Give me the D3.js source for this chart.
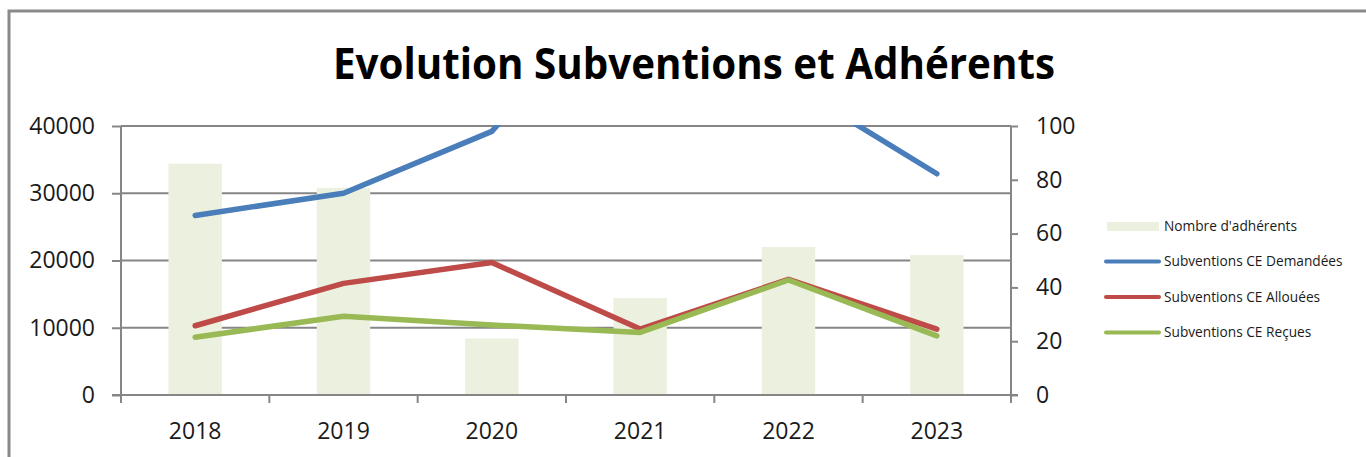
<!DOCTYPE html>
<html>
<head>
<meta charset="utf-8">
<script src="https://cdn.jsdelivr.net/npm/d3@7"></script>
<style>
  html, body { margin: 0; padding: 0; background: #fff; }
  svg { display: block; }
  text { font-family: "Open Sans", "DejaVu Sans", sans-serif; fill: #1a1a1a; }
</style>
</head>
<body>
<svg id="chart" width="1366" height="457"></svg>
<script>
const years = ["2018", "2019", "2020", "2021", "2022", "2023"];
const adherents = [86, 77, 21, 36, 55, 52];
const demandees = [26700, 30000, 39200, 64000, 46400, 32900];
const allouees = [10300, 16600, 19700, 9800, 17200, 9800];
const recues = [8600, 11700, 10400, 9300, 17100, 8800];
const leftTicks = [0, 10000, 20000, 30000, 40000];
const rightTicks = [0, 20, 40, 60, 80, 100];
const seriesNames = ["Nombre d'adhérents", "Subventions CE Demandées", "Subventions CE Allouées", "Subventions CE Reçues"];
const title = "Evolution Subventions et Adhérents";

const colors = { bar: "#ebf1de", blue: "#4a7ebb", red: "#be4b48", green: "#98b954", axis: "#868686" };

const svg = d3.select("#chart");
const W = 1366, H = 457;
const plot = { left: 121, right: 1011, top: 126, bottom: 395 };

svg.append("rect").attr("width", W).attr("height", H).attr("fill", "#fff");

// outer frame (left + top visible)
svg.append("path")
  .attr("d", `M9,${H} L9,11 L${W},11`)
  .attr("fill", "none").attr("stroke", "#8a8a8a").attr("stroke-width", 3);

// title
svg.append("text")
  .attr("x", 694).attr("y", 79)
  .attr("text-anchor", "middle")
  .attr("font-size", 43).attr("font-weight", "bold")
  .attr("textLength", 722).attr("lengthAdjust", "spacingAndGlyphs")
  .style("fill", "#000")
  .text(title);

const x = d3.scaleBand().domain(years).range([plot.left, plot.right]).paddingInner(0.64).paddingOuter(0.32);
const xStep = x.step();
const cx = d => x(d) + x.bandwidth() / 2;
const yL = d3.scaleLinear().domain([0, 40000]).range([plot.bottom, plot.top]);
const yR = d3.scaleLinear().domain([0, 100]).range([plot.bottom, plot.top]);

// gridlines
svg.append("g").selectAll("line").data(leftTicks.filter(t => t > 0)).join("line")
  .attr("x1", plot.left).attr("x2", plot.right)
  .attr("y1", d => yL(d)).attr("y2", d => yL(d))
  .attr("stroke", colors.axis).attr("stroke-width", 2);

// bars
svg.append("g").selectAll("rect").data(years).join("rect")
  .attr("x", d => x(d)).attr("width", x.bandwidth())
  .attr("y", (d, i) => yR(adherents[i]))
  .attr("height", (d, i) => yR(0) - yR(adherents[i]))
  .attr("fill", colors.bar);

// axes
const axisG = svg.append("g").attr("stroke", colors.axis).attr("stroke-width", 2);
// left axis
const leftAxis = d3.axisLeft(yL).tickValues(leftTicks).tickSize(9).tickFormat(d => d);
const gl = svg.append("g").attr("transform", `translate(${plot.left},0)`).call(leftAxis);
gl.select(".domain").remove();
gl.selectAll(".tick line").attr("stroke", colors.axis).attr("stroke-width", 2);
gl.selectAll(".tick text").attr("x", -26).attr("font-size", 23).attr("font-family", "'Open Sans', sans-serif").attr("fill", "#1a1a1a");

// right axis
const rightAxis = d3.axisRight(yR).tickValues(rightTicks).tickSize(7).tickFormat(d => d);
const gr = svg.append("g").attr("transform", `translate(${plot.right},0)`).call(rightAxis);
gr.select(".domain").remove();
gr.selectAll(".tick line").attr("stroke", colors.axis).attr("stroke-width", 2);
gr.selectAll(".tick text").attr("x", 25).attr("font-size", 23).attr("font-family", "'Open Sans', sans-serif").attr("fill", "#1a1a1a");

// vertical axis lines
axisG.append("line").attr("x1", plot.left).attr("x2", plot.left).attr("y1", plot.top).attr("y2", plot.bottom + 8);
axisG.append("line").attr("x1", plot.right).attr("x2", plot.right).attr("y1", plot.top).attr("y2", plot.bottom + 8);
// baseline
axisG.append("line").attr("x1", plot.left - 9).attr("x2", plot.right + 7).attr("y1", plot.bottom).attr("y2", plot.bottom);
// category boundary ticks
const bounds = years.map(d => x(d) - xStep * 0.32).concat([plot.right]);
axisG.selectAll("line.ct").data(bounds).join("line").attr("class", "ct")
  .attr("x1", d => d).attr("x2", d => d).attr("y1", plot.bottom).attr("y2", plot.bottom + 8);

// x labels
svg.append("g").selectAll("text").data(years).join("text")
  .attr("x", d => cx(d)).attr("y", 439)
  .attr("text-anchor", "middle").attr("font-size", 23)
  .text(d => d);

// clip
svg.append("clipPath").attr("id", "plotclip").append("rect")
  .attr("x", plot.left - 10).attr("y", plot.top - 1)
  .attr("width", plot.right - plot.left + 20).attr("height", plot.bottom - plot.top + 10);

const lineGen = d3.line().x((d, i) => cx(years[i])).y(d => yL(d));
const lineG = svg.append("g").attr("clip-path", "url(#plotclip)");
[[demandees, colors.blue], [allouees, colors.red], [recues, colors.green]].forEach(([vals, col]) => {
  lineG.append("path").attr("d", lineGen(vals))
    .attr("fill", "none").attr("stroke", col).attr("stroke-width", 5.5)
    .attr("stroke-linecap", "round").attr("stroke-linejoin", "round");
});

// legend
const lg = svg.append("g");
const legendY = [226.5, 261.5, 297, 332.5];
lg.append("rect").attr("x", 1107).attr("y", legendY[0] - 4.5).attr("width", 52).attr("height", 9).attr("fill", colors.bar);
[colors.blue, colors.red, colors.green].forEach((c, i) => {
  lg.append("line").attr("x1", 1106).attr("x2", 1159)
    .attr("y1", legendY[i + 1]).attr("y2", legendY[i + 1])
    .attr("stroke", c).attr("stroke-width", 4).attr("stroke-linecap", "round");
});
lg.selectAll("text").data(seriesNames).join("text")
  .attr("x", 1164).attr("y", (d, i) => legendY[i])
  .attr("dy", "0.35em").attr("font-size", 13.7)
  .text(d => d);
</script>
</body>
</html>
